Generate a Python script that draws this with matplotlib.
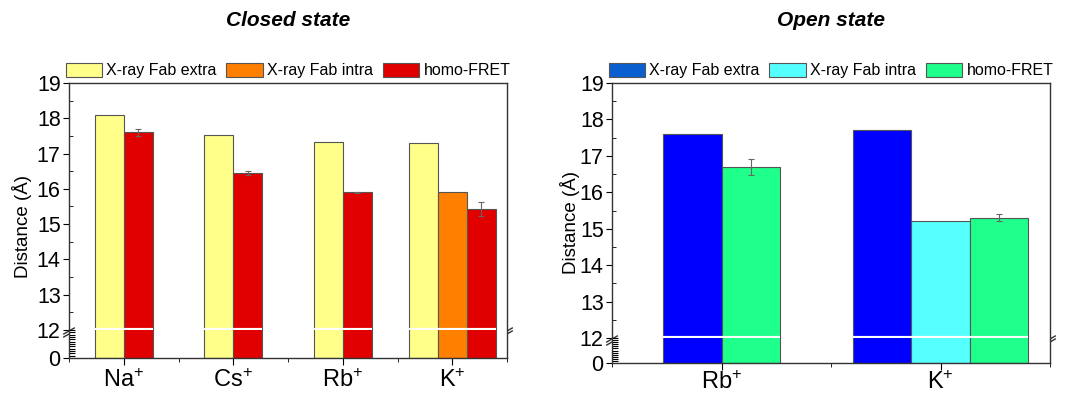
import matplotlib
matplotlib.use("Agg")
import matplotlib.pyplot as plt
import matplotlib.patches as mpatches
import numpy as np

plt.rcParams['font.family'] = ['Liberation Sans', 'DejaVu Sans']
plt.rcParams['mathtext.default'] = 'regular'

# closed state
closed_ions = ['Na', 'Cs', 'Rb', 'K']
closed_extra = [18.1, 17.52, 17.32, 17.3]
closed_intra = [np.nan, np.nan, np.nan, 15.92]
closed_fret = [17.6, 16.45, 15.9, 15.42]
closed_fret_err = [0.1, 0.05, 0.02, 0.2]

# open state
open_ions = ['Rb', 'K']
open_extra = [17.6, 17.7]
open_intra = [np.nan, 15.2]
open_fret = [16.7, 15.3]
open_fret_err = [0.22, 0.1]

series_names = ['X-ray Fab extra', 'X-ray Fab intra', 'homo-FRET']
closed_colors = ['#FFFF8A', '#FF8000', '#E00000']
open_colors = ['#0000FF', '#55FFFF', '#1EFF8C']
open_legend_colors = ['#0A5FD0', '#55FFFF', '#1EFF8C']

W, H = 1068, 393
fig = plt.figure(figsize=(W / 100, H / 100), dpi=100)


def make_panel(x0, top, brk, bottom, ions, extra, intra, fret, err,
               colors, legend_colors, title, xpad):
    left = x0 / W
    width = 438 / W
    ax_up = fig.add_axes([left, 1 - brk / H, width, (brk - top) / H])
    ax_lo = fig.add_axes([left, 1 - bottom / H, width, (bottom - brk) / H])

    w = 0.265
    values = [extra, intra, fret]
    for ax in (ax_up, ax_lo):
        for i in range(len(ions)):
            present = [k for k in range(3) if not np.isnan(values[k][i])]
            n = len(present)
            for j, k in enumerate(present):
                xpos = i + (j - (n - 1) / 2) * w
                ax.bar(xpos, values[k][i], width=w, color=colors[k],
                       edgecolor='#555555', linewidth=0.8, zorder=2)
                if k == 2 and ax is ax_up:
                    ax.errorbar(xpos, values[k][i], yerr=err[i], color='#666666',
                                lw=0.8, capsize=2.5, capthick=0.8, zorder=3)
            # white break line over the bars of this group
            if ax is ax_up:
                x_lo = i - n * w / 2
                ax.plot([x_lo, x_lo + n * w], [12, 12], color='white', lw=3,
                        solid_capstyle='butt', clip_on=False, zorder=5)
        ax.set_xlim(-0.5, len(ions) - 0.5)

    ax_up.set_ylim(12, 19)
    ax_up.set_yticks(range(12, 20))
    ax_up.set_yticks(np.arange(12, 19.01, 0.5), minor=True)
    ax_up.spines['bottom'].set_visible(False)
    ax_up.tick_params(axis='x', which='both', bottom=False, labelbottom=False)
    ax_up.tick_params(axis='y', which='major', direction='out', length=4, labelsize=15.5, pad=2)
    ax_up.tick_params(axis='y', which='minor', direction='in', length=3)

    ax_lo.set_ylim(0, 12)
    ax_lo.set_yticks([0])
    ax_lo.set_yticks(np.arange(0, 12.1, 1), minor=True)
    ax_lo.spines['top'].set_visible(False)
    ax_lo.tick_params(axis='y', which='major', direction='out', length=4, labelsize=15.5, pad=2)
    ax_lo.tick_params(axis='y', which='minor', direction='in', length=4, width=0.8)
    ax_lo.set_xticks(range(len(ions)))
    ax_lo.set_xticklabels([s + '$^{+}$' for s in ions], fontsize=17)
    ax_lo.set_xticks(np.arange(-0.5, len(ions), 0.5), minor=True)
    ax_lo.tick_params(axis='x', which='major', direction='out', length=5, pad=xpad)
    ax_lo.tick_params(axis='x', which='minor', direction='out', length=3)

    for ax in (ax_up, ax_lo):
        for s in ax.spines.values():
            s.set_color('#333333')
            s.set_linewidth(1.0)

    # break marks on the spines
    h_up = (brk - top)
    for xa in (0, 1):
        ax_up.plot([xa - 0.012, xa + 0.012], [-4 / h_up, 2 / h_up],
                   transform=ax_up.transAxes, color='#333333', lw=1,
                   clip_on=False, zorder=6)
        ax_up.plot([xa - 0.012, xa + 0.012], [-7 / h_up, -1 / h_up],
                   transform=ax_up.transAxes, color='#333333', lw=1,
                   clip_on=False, zorder=6)

    handles = [mpatches.Patch(facecolor=c, edgecolor='#555555', linewidth=0.8)
               for c in legend_colors]
    ax_up.legend(handles, series_names, loc='lower center', ncol=3,
                 bbox_to_anchor=(0.5, 1.0), frameon=False, fontsize=11.5,
                 handlelength=2.3, handleheight=1.0, handletextpad=0.25,
                 columnspacing=0.6, borderaxespad=0.2, borderpad=0.1)

    cx = (x0 + 219) / W
    fig.text(cx, 1 - 20 / H, title, ha='center', va='center', fontsize=15,
             fontweight='bold', fontstyle='italic')
    return ax_up, ax_lo


make_panel(69, 83, 330, 358, closed_ions, closed_extra, closed_intra, closed_fret,
           closed_fret_err, closed_colors, closed_colors, 'Closed state', 3)
make_panel(612, 83, 338, 363, open_ions, open_extra, open_intra, open_fret,
           open_fret_err, open_colors, open_legend_colors, 'Open state', 1)

fig.text(22 / W, 1 - 226 / H, 'Distance (Å)', rotation=90, ha='center', va='center',
         fontsize=13.5)
fig.text(570 / W, 1 - 223 / H, 'Distance (Å)', rotation=90, ha='center', va='center',
         fontsize=13.5)

fig.savefig('out.png', dpi=100)
